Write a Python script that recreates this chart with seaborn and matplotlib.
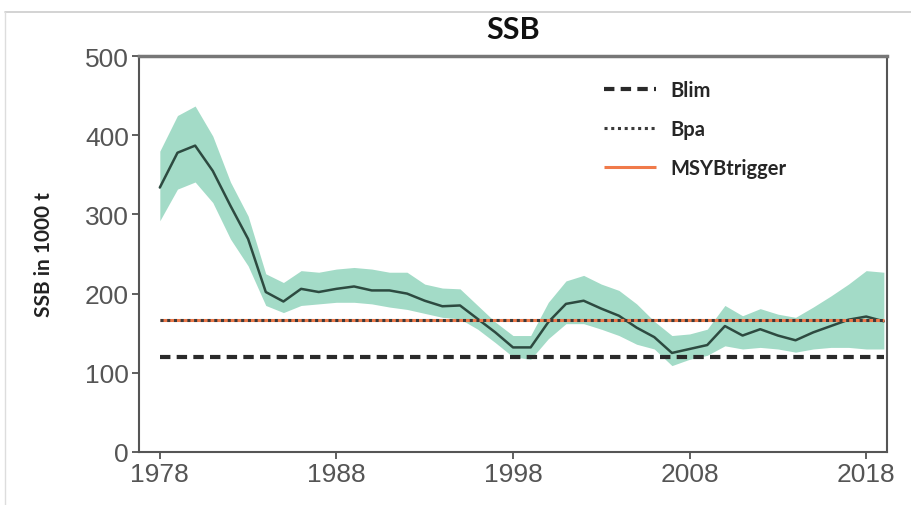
import matplotlib
matplotlib.use("Agg")
import matplotlib.pyplot as plt
import pandas as pd
import seaborn as sns

# Data
years = list(range(1978, 2020))
ssb = [334, 378, 387, 355, 311, 269, 202, 190, 206, 202,
       206, 209, 204, 204, 200, 191, 184, 185, 168, 151,
       132, 132, 164, 187, 191, 181, 172, 157, 145, 125,
       130, 135, 159, 147, 155, 147, 141, 151, 159, 167,
       171, 165]
ssb_high = [380, 425, 437, 399, 341, 298, 225, 214, 229, 227,
            231, 233, 231, 227, 227, 212, 207, 206, 185, 164,
            147, 147, 189, 216, 223, 212, 204, 187, 165, 147,
            149, 155, 185, 172, 181, 174, 170, 183, 197, 212,
            229, 227]
ssb_low = [292, 332, 341, 315, 269, 235, 185, 176, 185, 187,
           189, 189, 187, 183, 180, 175, 170, 168, 155, 138,
           120, 117, 143, 162, 162, 155, 147, 136, 130, 109,
           117, 122, 134, 130, 132, 130, 126, 130, 132, 132,
           130, 130]
blim = 120
bpa = 167
msy_btrigger = 167
xticks = [1978, 1988, 1998, 2008, 2018]
yticks = [0, 100, 200, 300, 400, 500]

df = pd.DataFrame({"year": years, "ssb": ssb, "high": ssb_high, "low": ssb_low})

sns.set_style("white")
plt.rcParams["font.family"] = ["Lato", "DejaVu Sans"]

fig = plt.figure(figsize=(9.12, 5.06), dpi=100)
ax = fig.add_axes([0.152, 0.105, 0.821, 0.782])

# confidence band and median
ax.fill_between(df["year"], df["low"], df["high"], color="#a3dbc7", lw=0, zorder=1)
sns.lineplot(data=df, x="year", y="ssb", color="#2d4a40", lw=1.8, ax=ax, zorder=3)

# reference points
ax.hlines(msy_btrigger, years[0], years[-1], color="#f07a4a", lw=2.2, zorder=4, label="MSY Btrigger")
ax.hlines(bpa, years[0], years[-1], color="#3a3a3a", lw=2.2, linestyles=(0, (1, 1.2)), zorder=5, label="Bpa")
ax.hlines(blim, years[0], years[-1], color="#2a2a2a", lw=3, linestyles=(0, (2.5, 1.5)), zorder=5, label="Blim")

ax.set_xlim(1976.8, 2019.2)
ax.set_ylim(0, 500)
ax.set_xticks(xticks)
ax.set_yticks(yticks)
ax.set_xlabel("")
ax.set_ylabel("SSB in 1000 t", fontsize=15, fontweight="bold", color="#222222", labelpad=22)

for lbl in ax.get_xticklabels() + ax.get_yticklabels():
    lbl.set_family(["Liberation Sans Narrow", "Liberation Sans", "DejaVu Sans"])
    lbl.set_fontsize(19)
    lbl.set_color("#555555")
ax.tick_params(axis="both", direction="out", length=5, width=1.2, color="#444444",
               bottom=True, left=True, pad=2)

for side in ["left", "right", "bottom"]:
    ax.spines[side].set_color("#555555")
    ax.spines[side].set_linewidth(1.5)
ax.spines["top"].set_color("#777777")
ax.spines["top"].set_linewidth(2.5)

ax.set_title("SSB", fontsize=22, fontweight="bold", color="#111111", pad=13)

handles, labels = ax.get_legend_handles_labels()
order = [2, 1, 0]
ax.legend([handles[i] for i in order], ["Blim", "Bpa", "MSYBtrigger"],
          loc="upper left", bbox_to_anchor=(0.642, 0.876), bbox_transform=fig.transFigure,
          frameon=False, prop={"family": "Lato", "weight": "bold", "size": 14.5},
          handlelength=2.6, handletextpad=0.7, labelspacing=0.95)

# faint frame around the figure, as in the screenshot
fig.add_artist(plt.Line2D([0.006, 1.0], [0.975, 0.975], transform=fig.transFigure,
                          color="#cccccc", lw=1.2))
fig.add_artist(plt.Line2D([0.006, 0.006], [0.0, 0.975], transform=fig.transFigure,
                          color="#dddddd", lw=1.0))

fig.savefig("out.png", dpi=100)
